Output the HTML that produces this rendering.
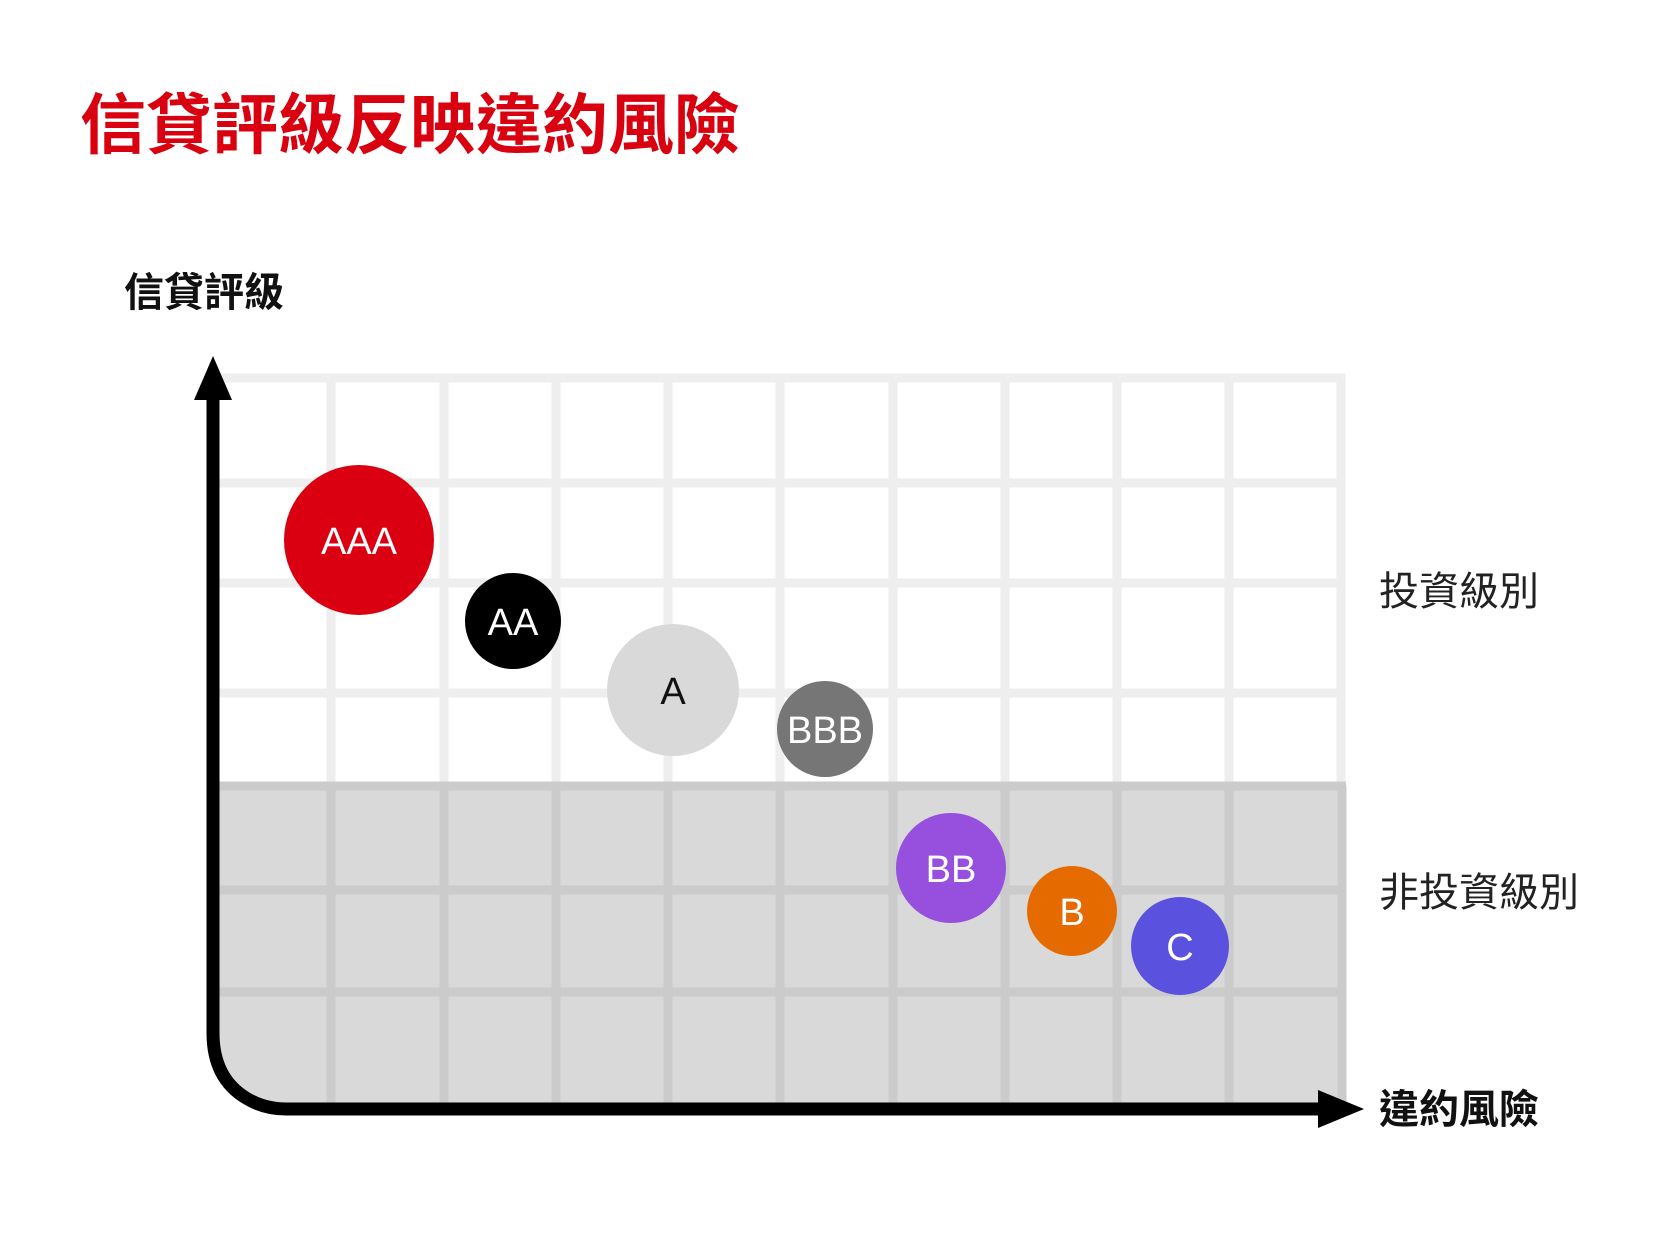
<!DOCTYPE html>
<html><head><meta charset="utf-8"><style>body{margin:0;background:#fff}svg{display:block}</style></head><body>
<svg width="1667" height="1250" viewBox="0 0 1667 1250" xmlns="http://www.w3.org/2000/svg" font-family="'Liberation Sans','Noto Sans CJK TC',sans-serif">
<text x="80" y="148" font-size="66" font-weight="bold" fill="#d9000f">信貸評級反映違約風險</text>
<text x="124" y="306" font-size="40" font-weight="bold" fill="#111">信貸評級</text>
<g transform="translate(-4,-2)">
<path d="M222 788 H1350 V1108 H290 Q260 1108 240 1090 Q222 1070 222 1035 Z" fill="#d9d9d9"/>
<g stroke="#eeeeee" stroke-width="9">
<line x1="222" y1="380" x2="1349" y2="380"/>
<line x1="222" y1="485" x2="1345" y2="485"/>
<line x1="222" y1="585" x2="1345" y2="585"/>
<line x1="222" y1="695" x2="1345" y2="695"/>
<line x1="335" y1="380" x2="335" y2="788"/><line x1="448" y1="380" x2="448" y2="788"/><line x1="560" y1="380" x2="560" y2="788"/><line x1="672" y1="380" x2="672" y2="788"/><line x1="784" y1="380" x2="784" y2="788"/><line x1="897" y1="380" x2="897" y2="788"/><line x1="1009" y1="380" x2="1009" y2="788"/><line x1="1121" y1="380" x2="1121" y2="788"/><line x1="1233" y1="380" x2="1233" y2="788"/><line x1="1345" y1="376" x2="1345" y2="788"/>
</g>
<g stroke="#cbcbcb" stroke-width="9">
<line x1="222" y1="788" x2="1350" y2="788"/>
<line x1="222" y1="892" x2="1345" y2="892"/>
<line x1="222" y1="994" x2="1345" y2="994"/>
<line x1="335" y1="788" x2="335" y2="1108"/><line x1="448" y1="788" x2="448" y2="1108"/><line x1="560" y1="788" x2="560" y2="1108"/><line x1="672" y1="788" x2="672" y2="1108"/><line x1="784" y1="788" x2="784" y2="1108"/><line x1="897" y1="788" x2="897" y2="1108"/><line x1="1009" y1="788" x2="1009" y2="1108"/><line x1="1121" y1="788" x2="1121" y2="1108"/><line x1="1233" y1="788" x2="1233" y2="1108"/><line x1="1346" y1="788" x2="1346" y2="1108"/>
</g>
<path d="M217 385 V1035 Q217 1080 250 1100 Q268 1111 290 1111 H1330" fill="none" stroke="#000" stroke-width="13"/>
<polygon points="217,358 198,402 236,402" fill="#000"/>
<polygon points="1368,1111 1322,1092 1322,1130" fill="#000"/>
<g font-size="38" text-anchor="middle" font-weight="300">
<circle cx="363" cy="542" r="75" fill="#db0011"/><text x="363" y="556" fill="#fff">AAA</text>
<circle cx="517" cy="623" r="48" fill="#000"/><text x="517" y="637" fill="#fff">AA</text>
<circle cx="677" cy="692" r="66" fill="#d9d9d9"/><text x="677" y="706" fill="#111">A</text>
<circle cx="829" cy="731" r="48" fill="#767676"/><text x="829" y="745" fill="#fff">BBB</text>
<circle cx="955" cy="870" r="55" fill="#9650dd"/><text x="955" y="884" fill="#fff">BB</text>
<circle cx="1076" cy="913" r="45" fill="#e56b00"/><text x="1076" y="927" fill="#fff">B</text>
<circle cx="1184" cy="948" r="49" fill="#5a52de"/><text x="1184" y="962" fill="#fff">C</text>
</g>
</g>
<text x="1379" y="605" font-size="40" fill="#222">投資級別</text>
<text x="1379" y="906" font-size="40" fill="#222">非投資級別</text>
<text x="1379" y="1123" font-size="40" font-weight="bold" fill="#111">違約風險</text>
</svg>
</body></html>
